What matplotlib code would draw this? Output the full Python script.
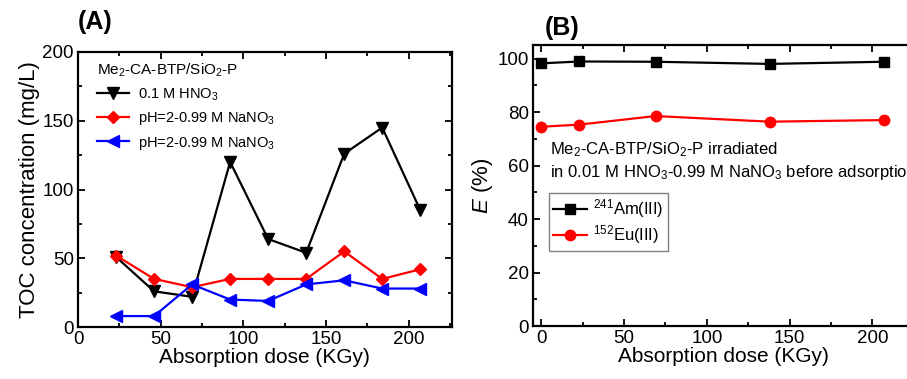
import matplotlib
matplotlib.use('Agg')
import matplotlib.pyplot as plt
from matplotlib.ticker import MultipleLocator

plt.rcParams['font.family'] = ['Liberation Sans', 'DejaVu Sans']
plt.rcParams['mathtext.fontset'] = 'custom'
plt.rcParams['mathtext.rm'] = 'Liberation Sans'
plt.rcParams['mathtext.it'] = 'Liberation Sans:italic'

# panel A data
dose_a = [23, 46, 69, 92, 115, 138, 161, 184, 207]
toc_hno3 = [51, 26, 22, 120, 64, 54, 126, 145, 85]
toc_nano3_red = [52, 35, 29, 35, 35, 35, 55, 35, 42]
toc_nano3_blue = [8, 8, 31, 20, 19, 31, 34, 28, 28]

# panel B data
dose_b = [0, 23, 69, 138, 207]
e_am = [98.2, 98.9, 98.8, 98.0, 98.8]
e_eu = [74.5, 75.3, 78.5, 76.4, 77.0]

fig = plt.figure(figsize=(9.07, 3.79), dpi=100)
ax1 = fig.add_axes([0.086, 0.137, 0.412, 0.726])
ax2 = fig.add_axes([0.5877, 0.1398, 0.4197, 0.741])

for ax in (ax1, ax2):
    for s in ax.spines.values():
        s.set_linewidth(1.6)
    ax.tick_params(which='both', direction='in', top=True, right=True, labelsize=13.5, width=1.3, pad=3)
    ax.tick_params(which='major', length=5)
    ax.tick_params(which='minor', length=3)
    ax.xaxis.set_major_locator(MultipleLocator(50))
    ax.xaxis.set_minor_locator(MultipleLocator(25))
    ax.set_xlabel('Absorption dose (KGy)', fontsize=15, labelpad=0)

# (A)
ax1.plot(dose_a, toc_hno3, '-v', color='black', lw=1.6, ms=8, label='0.1 M HNO$_3$')
ax1.plot(dose_a, toc_nano3_red, '-D', color='red', lw=1.6, ms=6.5, label='pH=2-0.99 M NaNO$_3$')
ax1.plot(dose_a, toc_nano3_blue, '-<', color='blue', lw=1.6, ms=8, label='pH=2-0.99 M NaNO$_3$')
ax1.set_xlim(0, 226)
ax1.set_ylim(0, 200)
ax1.yaxis.set_major_locator(MultipleLocator(50))
ax1.yaxis.set_minor_locator(MultipleLocator(25))
ax1.set_ylabel('TOC concentration (mg/L)', fontsize=16, labelpad=2)
leg = ax1.legend(loc='upper left', bbox_to_anchor=(0.035, 0.985), frameon=False, fontsize=10.5,
                 title='Me$_2$-CA-BTP/SiO$_2$-P', title_fontsize=11, handlelength=2.2,
                 borderaxespad=0, labelspacing=0.5, handletextpad=0.6)
leg._legend_box.align = 'left'
ax1.text(0.0, 1.085, '(A)', transform=ax1.transAxes, fontsize=18, fontweight='bold')

# (B)
ax2.plot(dose_b, e_am, '-s', color='black', lw=1.6, ms=7, label='$^{241}$Am(III)')
ax2.plot(dose_b, e_eu, '-o', color='red', lw=1.6, ms=7.5, label='$^{152}$Eu(III)')
ax2.set_xlim(-5, 225)
ax2.set_ylim(0, 105)
ax2.yaxis.set_major_locator(MultipleLocator(20))
ax2.yaxis.set_minor_locator(MultipleLocator(10))
ax2.set_ylabel('$E$ (%)', fontsize=16, labelpad=2)
ax2.text(0.045, 0.61, 'Me$_2$-CA-BTP/SiO$_2$-P irradiated', transform=ax2.transAxes,
         fontsize=12, va='baseline', clip_on=False)
ax2.text(0.045, 0.53, 'in 0.01 M HNO$_3$-0.99 M NaNO$_3$ before adsorption', transform=ax2.transAxes,
         fontsize=12, va='baseline', clip_on=False)
leg2 = ax2.legend(loc='upper left', bbox_to_anchor=(0.042, 0.473), fontsize=12, fancybox=False,
                  edgecolor='gray', framealpha=1, handlelength=2.0, borderpad=0.25,
                  labelspacing=0.2, handletextpad=0.4, borderaxespad=0)
leg2.get_frame().set_linewidth(1.0)
ax2.text(0.03, 1.035, '(B)', transform=ax2.transAxes, fontsize=18, fontweight='bold')

fig.savefig('out.png', dpi=100)
